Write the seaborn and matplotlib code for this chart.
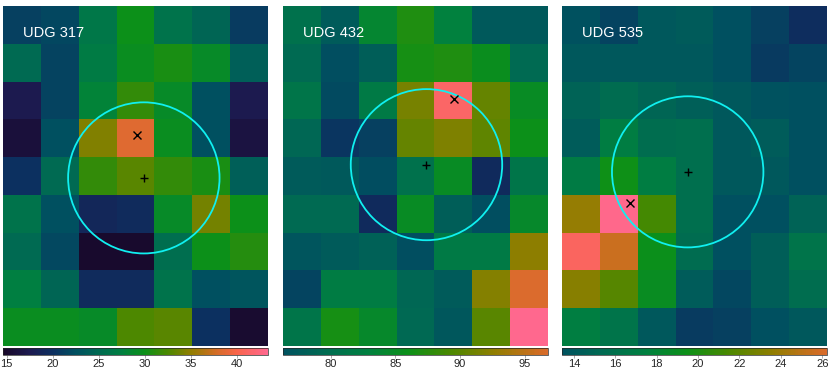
import numpy as np
import matplotlib
matplotlib.use("Agg")
import matplotlib.pyplot as plt
import seaborn as sns
from matplotlib.colors import LinearSegmentedColormap
from matplotlib.patches import Circle

names = ["UDG 317", "UDG 432", "UDG 535"]

# 9 rows (top -> bottom) x 7 columns
udg317 = [
    [21.3, 21.8, 26.5, 30.0, 26.0, 24.5, 21.0],
    [25.0, 21.5, 27.0, 29.5, 30.5, 29.0, 24.0],
    [17.5, 21.5, 28.0, 31.5, 29.0, 22.5, 17.5],
    [16.0, 22.5, 34.5, 38.5, 29.5, 22.5, 16.5],
    [20.0, 25.0, 31.5, 33.0, 31.5, 30.5, 24.0],
    [26.0, 22.5, 19.0, 19.5, 29.0, 34.0, 30.0],
    [25.0, 22.0, 15.0, 15.0, 25.5, 30.0, 31.0],
    [27.5, 24.5, 19.5, 19.5, 26.0, 22.5, 23.0],
    [29.5, 29.5, 29.0, 32.5, 33.0, 20.0, 15.2],
]
udg432 = [
    [80.5, 77.5, 84.0, 87.0, 83.0, 77.3, 77.3],
    [79.5, 76.0, 78.0, 86.5, 87.0, 85.5, 79.5],
    [81.0, 75.5, 82.0, 91.5, 101.0, 90.5, 85.0],
    [79.0, 73.5, 74.5, 90.5, 91.8, 90.3, 86.0],
    [77.5, 77.3, 75.8, 80.5, 85.0, 72.0, 81.0],
    [79.5, 79.5, 72.0, 85.0, 78.0, 76.0, 84.5],
    [76.8, 77.5, 78.3, 76.0, 82.0, 82.0, 92.5],
    [75.0, 82.2, 82.2, 79.0, 77.5, 92.0, 97.0],
    [81.0, 86.5, 84.5, 79.3, 77.0, 90.0, 103.5],
]
udg535 = [
    [13.4, 12.5, 14.0, 14.1, 13.3, 12.3, 11.0],
    [14.0, 14.0, 14.0, 14.0, 13.3, 11.9, 12.6],
    [14.8, 15.5, 15.0, 14.5, 14.0, 13.5, 13.3],
    [14.2, 17.2, 15.6, 15.8, 14.0, 14.2, 13.3],
    [17.0, 19.5, 17.2, 15.8, 14.0, 14.0, 13.3],
    [23.8, 30.3, 21.3, 15.8, 13.3, 13.3, 14.8],
    [28.5, 25.5, 19.3, 15.5, 13.3, 14.4, 16.3],
    [23.3, 21.8, 19.0, 14.2, 12.8, 14.4, 15.6],
    [17.3, 16.3, 14.0, 12.0, 12.3, 13.3, 14.0],
]
maps = [udg317, udg432, udg535]

vmins = [14.6, 65.7, 6.78]
vmaxs = [43.4, 103.7, 30.5]
cbar_lo = [14.6, 76.3, 13.42]
cbar_hi = [43.4, 96.8, 26.23]
cbar_ticks = [[15, 20, 25, 30, 35, 40], [80, 85, 90, 95], [14, 16, 18, 20, 22, 24, 26]]

# aperture centre / radius and peak position, in pixel units
circ_x = [3.72, 3.79, 3.32]
circ_y = [4.55, 4.20, 4.39]
circ_r = 2.0
peak_x = [3.53, 4.51, 1.80]
peak_y = [3.41, 2.47, 5.22]

cmap = LinearSegmentedColormap.from_list("helix", [
    (0.0, "#180828"), (0.10, "#1c1a50"), (0.19, "#0c3060"), (0.275, "#005060"),
    (0.36, "#006a52"), (0.45, "#008040"), (0.535, "#0c9018"), (0.62, "#4a8800"),
    (0.71, "#907e00"), (0.795, "#cc6e20"), (0.88, "#f86448"), (1.0, "#ff6890")])

sns.set_style("white")
plt.rcParams['font.family'] = ['Liberation Sans', 'DejaVu Sans']

fig = plt.figure(figsize=(8.3, 3.71), dpi=100)
lefts = [3 / 830, 283 / 830, 562 / 830]
w = 265 / 830

for i in range(3):
    ax = fig.add_axes([lefts[i], 25 / 371, w, 340 / 371])
    cax = fig.add_axes([lefts[i], 16 / 371, w, 7.5 / 371])
    sns.heatmap(np.array(maps[i]), ax=ax, cmap=cmap, vmin=vmins[i], vmax=vmaxs[i],
                cbar_ax=cax, cbar_kws={'orientation': 'horizontal'},
                xticklabels=False, yticklabels=False)
    ax.add_patch(Circle((circ_x[i], circ_y[i]), circ_r, fill=False,
                        edgecolor='#10f0f0', lw=1.3))
    ax.plot(circ_x[i], circ_y[i], marker='+', color='black', ms=6, mew=1)
    ax.plot(peak_x[i], peak_y[i], marker='x', color='black', ms=6, mew=1)
    ax.text(0.075, 0.92, names[i], color='white', fontsize=10.5,
            transform=ax.transAxes, va='center')
    cbar = ax.collections[0].colorbar
    cbar.ax.set_xlim(cbar_lo[i], cbar_hi[i])
    cbar.set_ticks(cbar_ticks[i])
    cbar.ax.tick_params(labelsize=8, length=2, width=0.5, color='#888888', pad=1)
    cbar.outline.set_linewidth(0.5)

plt.savefig('out.png', dpi=100)
